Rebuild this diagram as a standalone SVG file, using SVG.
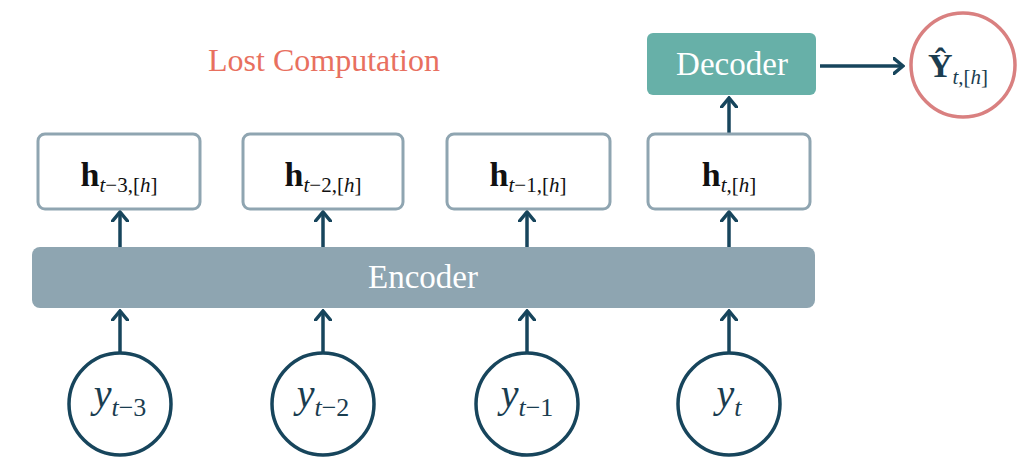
<svg xmlns="http://www.w3.org/2000/svg" width="1024" height="469" viewBox="0 0 1024 469">
<defs>
<marker id="arr" viewBox="0 0 12 18" refX="10" refY="9" markerWidth="12" markerHeight="18" markerUnits="userSpaceOnUse" orient="auto">
<path d="M1,1.5 L10,9 L1,16.5" fill="none" stroke="#17455c" stroke-width="3.5" stroke-linecap="round" stroke-linejoin="miter"/>
</marker>
<style>
.hbox{fill:#fff;stroke:#8fa5b1;stroke-width:3}
.inp{fill:#fff;stroke:#17455c;stroke-width:3.5}
.con{stroke:#17455c;stroke-width:3.5;fill:none;marker-end:url(#arr)}
.serif{font-family:"Liberation Serif","DejaVu Serif",serif}
.hb{font-weight:bold;font-size:34px;fill:#111}
.sub{font-style:italic;font-size:21px;fill:#111}
.up{font-style:normal}
.y{font-style:italic;font-size:40px;fill:#1a3d50}
.ys{font-size:26px}
.lbl{font-size:33px;fill:#fff}
</style>
</defs>
<rect width="1024" height="469" fill="#fff"/>
<text id="lost" class="serif" x="324" y="71" text-anchor="middle" font-size="32" fill="#e8705f">Lost Computation</text>
<g id="connectors">
<line class="con" x1="120" y1="247" x2="120" y2="212"/>
<line class="con" x1="323" y1="247" x2="323" y2="212"/>
<line class="con" x1="527" y1="247" x2="527" y2="212"/>
<line class="con" x1="729" y1="247" x2="729" y2="212"/>
<line class="con" x1="120" y1="352" x2="120" y2="311"/>
<line class="con" x1="323" y1="352" x2="323" y2="311"/>
<line class="con" x1="527" y1="352" x2="527" y2="311"/>
<line class="con" x1="729" y1="352" x2="729" y2="311"/>
<line class="con" x1="729" y1="133" x2="729" y2="98"/>
<line class="con" x1="820" y1="66" x2="903" y2="66"/>
</g>
<g id="encoder">
<rect x="32" y="247" width="783" height="61" rx="8" fill="#8ea5b1"/>
<text class="serif lbl" x="423" y="288" text-anchor="middle">Encoder</text>
</g>
<g id="decoder">
<rect x="647" y="33" width="169" height="62" rx="6" fill="#67b0a8"/>
<text class="serif lbl" x="732" y="75" text-anchor="middle">Decoder</text>
</g>
<g id="yhat">
<circle cx="963" cy="65" r="52" fill="#fff" stroke="#d98080" stroke-width="3.5"/>
<text class="serif" x="958" y="77" text-anchor="middle"><tspan font-weight="bold" font-size="34" fill="#1a3d50">Ŷ</tspan><tspan font-style="italic" font-size="21" fill="#1a3d50" dy="7">t</tspan><tspan font-size="21" fill="#1a3d50">,[</tspan><tspan font-style="italic" font-size="21" fill="#1a3d50">h</tspan><tspan font-size="21" fill="#1a3d50">]</tspan></text>
</g>
<g id="h3">
<rect class="hbox" x="38" y="134" width="162" height="75" rx="7"/>
<text class="serif" x="119" y="186" text-anchor="middle"><tspan class="hb">h</tspan><tspan class="sub" dy="6">t</tspan><tspan class="sub up">−3,[</tspan><tspan class="sub">h</tspan><tspan class="sub up">]</tspan></text>
</g>
<g id="h2">
<rect class="hbox" x="243" y="134" width="160" height="75" rx="7"/>
<text class="serif" x="323" y="186" text-anchor="middle"><tspan class="hb">h</tspan><tspan class="sub" dy="6">t</tspan><tspan class="sub up">−2,[</tspan><tspan class="sub">h</tspan><tspan class="sub up">]</tspan></text>
</g>
<g id="h1">
<rect class="hbox" x="447" y="134" width="163" height="75" rx="7"/>
<text class="serif" x="528" y="186" text-anchor="middle"><tspan class="hb">h</tspan><tspan class="sub" dy="6">t</tspan><tspan class="sub up">−1,[</tspan><tspan class="sub">h</tspan><tspan class="sub up">]</tspan></text>
</g>
<g id="h0">
<rect class="hbox" x="648" y="134" width="162" height="75" rx="7"/>
<text class="serif" x="729" y="186" text-anchor="middle"><tspan class="hb">h</tspan><tspan class="sub" dy="6">t</tspan><tspan class="sub up">,[</tspan><tspan class="sub">h</tspan><tspan class="sub up">]</tspan></text>
</g>
<g id="y3">
<circle class="inp" cx="120" cy="404" r="51"/>
<text class="serif y" x="120" y="407" text-anchor="middle">y<tspan class="ys" dy="9">t</tspan><tspan class="ys" font-style="normal">−3</tspan></text>
</g>
<g id="y2">
<circle class="inp" cx="323" cy="404" r="51"/>
<text class="serif y" x="323" y="407" text-anchor="middle">y<tspan class="ys" dy="9">t</tspan><tspan class="ys" font-style="normal">−2</tspan></text>
</g>
<g id="y1">
<circle class="inp" cx="527" cy="404" r="51"/>
<text class="serif y" x="527" y="407" text-anchor="middle">y<tspan class="ys" dy="9">t</tspan><tspan class="ys" font-style="normal">−1</tspan></text>
</g>
<g id="y0">
<circle class="inp" cx="729" cy="404" r="51"/>
<text class="serif y" x="729" y="407" text-anchor="middle">y<tspan class="ys" dy="9">t</tspan></text>
</g>
</svg>
